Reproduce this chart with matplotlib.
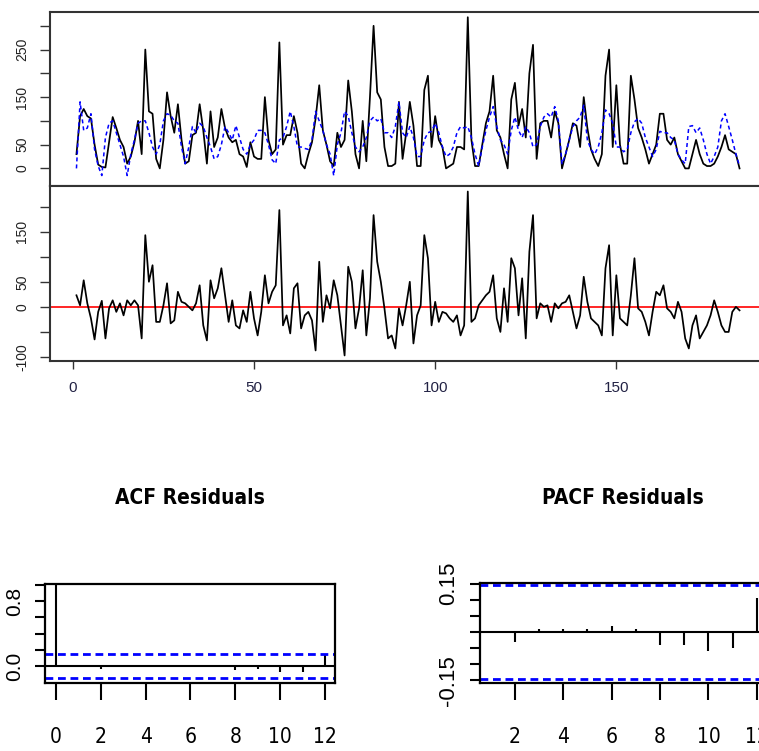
import matplotlib
matplotlib.use('Agg')
import matplotlib.pyplot as plt
from matplotlib import font_manager as fm

# observed series (black) and fitted values (blue), time index 1..184
actual = [30, 110, 125, 110, 105, 50, 8, 3, 2, 55,
          108, 85, 60, 45, 10, 25, 55, 100, 30, 250,
          120, 115, 20, 0, 60, 160, 110, 75, 135, 60,
          10, 15, 70, 75, 135, 80, 10, 120, 45, 65,
          125, 85, 65, 55, 60, 30, 25, 3, 55, 25,
          20, 20, 150, 60, 30, 40, 265, 50, 70, 70,
          110, 75, 10, 0, 30, 55, 105, 175, 80, 50,
          15, 5, 75, 45, 60, 185, 120, 30, 0, 100,
          15, 150, 300, 160, 145, 45, 5, 5, 10, 140,
          20, 75, 140, 90, 5, 5, 165, 195, 45, 110,
          60, 45, 0, 5, 10, 45, 45, 40, 318, 60,
          5, 5, 50, 95, 120, 195, 80, 65, 30, 0,
          145, 180, 90, 125, 65, 200, 260, 20, 95, 100,
          100, 65, 120, 95, 0, 30, 60, 95, 90, 45,
          150, 85, 40, 20, 5, 30, 195, 250, 45, 175,
          50, 10, 10, 195, 145, 85, 65, 40, 10, 30,
          50, 115, 115, 60, 50, 65, 30, 15, 0, 0,
          30, 60, 30, 10, 5, 5, 10, 25, 45, 70,
          40, 35, 30, 0]

fitted = [0, 140, 80, 85, 115, 40, 5, -15, 65, 95,
          100, 75, 50, 25, -15, 30, 60, 95, 100, 100,
          75, 45, 30, 50, 100, 115, 112, 100, 95, 45,
          10, 45, 88, 75, 95, 88, 65, 45, 20, 25,
          50, 88, 75, 60, 90, 65, 40, 30, 50, 60,
          80, 80, 75, 50, 18, 10, 60, 65, 88, 120,
          88, 45, 45, 42, 40, 60, 120, 100, 80, 50,
          30, -15, 50, 75, 120, 110, 75, 45, 35, 45,
          65, 100, 108, 100, 105, 75, 75, 65, 88, 140,
          75, 65, 88, 65, 25, 25, 60, 75, 78, 95,
          75, 45, 25, 30, 45, 75, 88, 85, 88, 65,
          30, 5, 45, 80, 108, 130, 88, 60, 50, 30,
          80, 108, 80, 65, 88, 75, 45, 50, 88, 108,
          115, 108, 130, 100, 10, 30, 60, 88, 100, 108,
          133, 60, 40, 30, 45, 75, 123, 115, 95, 45,
          45, 35, 40, 75, 98, 105, 95, 65, 45, 25,
          40, 78, 75, 75, 65, 60, 30, 18, 10, 88,
          90, 75, 85, 60, 30, 10, 25, 45, 100, 115,
          88, 60, 30, 5]

residuals = [23, 3, 53, 7, -23, -65, -10, 12, -63, -3,
             13, -10, 7, -17, 13, 3, 13, 3, -63, 143,
             50, 83, -30, -30, 3, 47, -33, -27, 30, 10,
             7, 0, -7, 7, 43, -37, -67, 53, 17, 37,
             77, 23, -30, 13, -37, -43, -7, -30, 30, -23,
             -57, -10, 63, 7, 30, 43, 193, -37, -17, -53,
             37, 47, -43, -17, -10, -27, -87, 90, -30, 23,
             -3, 53, 23, -37, -97, 80, 50, -43, -3, 73,
             -57, 17, 183, 90, 50, -3, -63, -57, -83, -3,
             -37, 3, 50, -73, -17, 3, 143, 97, -37, 10,
             -30, -10, -13, -23, -30, -17, -57, -37, 230, -30,
             -23, 3, 13, 23, 30, 63, -23, -50, 37, -30,
             97, 77, -17, 57, -63, 110, 183, -23, 7, 0,
             3, -30, 7, -3, 7, 10, 23, -10, -43, -17,
             60, 10, -23, -30, -37, -57, 77, 123, -57, 63,
             -23, -30, -37, 23, 97, -3, -10, -30, -57, -10,
             30, 23, 43, -3, -10, -23, 10, -10, -63, -83,
             -37, -17, -63, -50, -37, -17, 13, -10, -37, -50,
             -50, -10, 0, -7]

acf_lags = [0, 1, 2, 3, 4, 5, 6, 7, 8, 9, 10, 11, 12]
acf_vals = [1.0, 0.005, -0.037, 0.01, 0.005, 0.01, 0.015, 0.01, -0.045, -0.037, -0.078, -0.078, 0.14]
pacf_lags = [1, 2, 3, 4, 5, 6, 7, 8, 9, 10, 11, 12]
pacf_vals = [0.004, -0.031, 0.01, 0.01, 0.01, 0.019, 0.01, -0.041, -0.041, -0.059, -0.05, 0.105]
conf_limit = 0.1445

time_idx = list(range(1, len(actual) + 1))

# fonts
names = {f.name for f in fm.fontManager.ttflist}
regular = 'Liberation Sans' if 'Liberation Sans' in names else 'DejaVu Sans'
if 'Liberation Sans Narrow' in names:
    narrow, narrow_kw = 'Liberation Sans Narrow', {}
else:
    narrow, narrow_kw = 'DejaVu Sans', {'fontstretch': 'condensed'}

W, H = 759, 751
fig = plt.figure(figsize=(W / 100, H / 100), dpi=100)


def box(l, t, r, b):
    # pixel box -> figure fraction
    return [l / W, 1 - b / H, (r - l) / W, (b - t) / H]


def style_frame(ax, lw=1.5, color='#333333'):
    for s in ax.spines.values():
        s.set_linewidth(lw)
        s.set_color(color)


dash_thin = (0, (2.6, 2.0))
dash_thick = (0, (2.8, 1.7))

# ---- top: series and fit ----
ax1 = fig.add_axes(box(50, 12, 766, 186))
ax1.plot(time_idx, actual, color='black', lw=1.25)
ax1.plot(time_idx, fitted, color='blue', lw=1.1, ls=dash_thin)
ax1.set_xlim(-6.3, 191.3)
ax1.set_ylim(-37, 329)
ax1.set_xticks([])
ax1.set_yticks([0, 50, 100, 150, 200, 250, 300])
ax1.set_yticklabels(['0', '50', '', '150', '', '250', ''], family=regular, fontsize=10,
                    rotation=90, va='center', color='#222222')
ax1.tick_params(axis='y', length=7, width=1, pad=8, color='#333333')
style_frame(ax1)

# ---- middle: residuals ----
ax2 = fig.add_axes(box(50, 186, 766, 361))
ax2.axhline(0, color='red', lw=1.2)
ax2.plot(time_idx, residuals, color='black', lw=1.25)
ax2.set_xlim(-6.3, 191.3)
ax2.set_ylim(-108, 241)
ax2.set_yticks([-100, -50, 0, 50, 100, 150, 200])
ax2.set_yticklabels(['-100', '', '0', '50', '', '150', ''], family=regular, fontsize=10,
                    rotation=90, va='center', color='#222222')
ax2.set_xticks([0, 50, 100, 150])
ax2.set_xticklabels(['0', '50', '100', '150'], family=regular, fontsize=11, color='#222244')
ax2.tick_params(axis='y', length=7, width=1, pad=8, color='#333333')
ax2.tick_params(axis='x', length=5.5, width=1, pad=9, color='#333333')
style_frame(ax2)

# ---- ACF ----
ax3 = fig.add_axes(box(45, 584, 335, 683))
ax3.vlines(acf_lags, 0, acf_vals, color='black', lw=1.5)
ax3.axhline(0, color='black', lw=1.5)
ax3.axhline(conf_limit, color='blue', lw=2, ls=dash_thick)
ax3.axhline(-conf_limit, color='blue', lw=2, ls=dash_thick)
ax3.set_xlim(-0.49, 12.45)
ax3.set_ylim(-0.21, 1.01)
ax3.set_xticks([0, 2, 4, 6, 8, 10, 12])
ax3.set_xticklabels(['0', '2', '4', '6', '8', '10', '12'], family=narrow, fontsize=15, **narrow_kw)
ax3.set_yticks([0, 0.2, 0.4, 0.6, 0.8, 1.0])
ax3.set_yticklabels(['0.0', '', '', '', '0.8', ''], family=regular, fontsize=15,
                    rotation=90, va='center')
ax3.tick_params(axis='x', length=12, width=1.5, pad=20)
ax3.tick_params(axis='y', length=7, width=1.5, pad=8)
style_frame(ax3, lw=1.6, color='black')
fig.text(190 / W, 1 - 498 / H, 'ACF Residuals', ha='center', va='center',
         family=narrow, fontsize=15, fontweight='bold', **narrow_kw)

# ---- PACF ----
ax4 = fig.add_axes(box(480, 583, 767.5, 683))
ax4.vlines(pacf_lags, 0, pacf_vals, color='black', lw=1.5)
ax4.axhline(0, color='black', lw=1.5)
ax4.axhline(conf_limit, color='blue', lw=2, ls=dash_thick)
ax4.axhline(-conf_limit, color='blue', lw=2, ls=dash_thick)
ax4.set_xlim(0.56, 12.44)
ax4.set_ylim(-0.158, 0.152)
ax4.set_xticks([2, 4, 6, 8, 10, 12])
ax4.set_xticklabels(['2', '4', '6', '8', '10', '12'], family=narrow, fontsize=15, **narrow_kw)
ax4.set_yticks([-0.15, -0.10, -0.05, 0, 0.05, 0.10, 0.15])
ax4.set_yticklabels(['-0.15', '', '', '', '', '', '0.15'], family=regular, fontsize=16,
                    rotation=90, va='center')
ax4.tick_params(axis='x', length=12, width=1.5, pad=20)
ax4.tick_params(axis='y', length=7, width=1.5, pad=8)
style_frame(ax4, lw=1.6, color='black')
fig.text(623 / W, 1 - 498 / H, 'PACF Residuals', ha='center', va='center',
         family=narrow, fontsize=15, fontweight='bold', **narrow_kw)

fig.savefig('out.png', dpi=100)
